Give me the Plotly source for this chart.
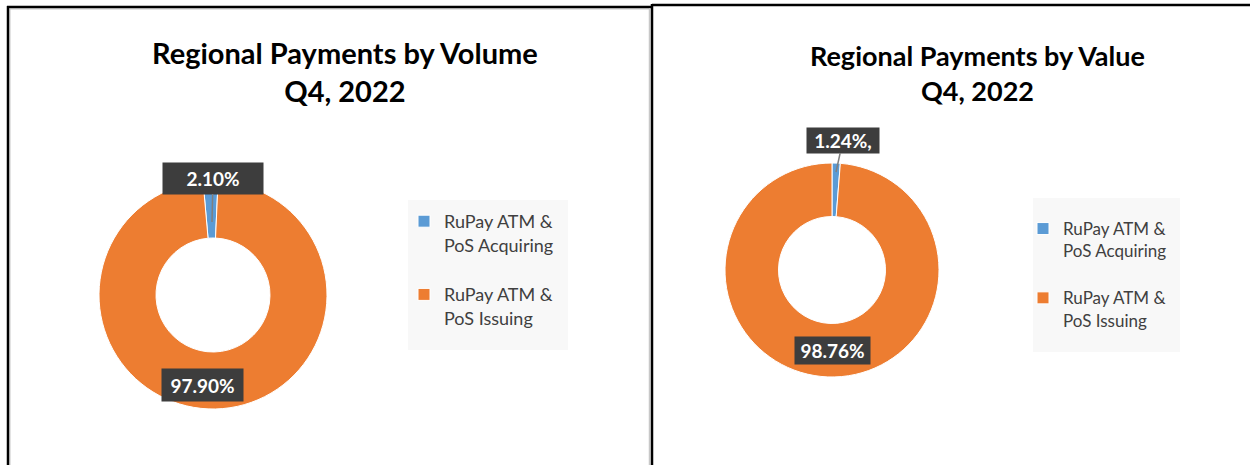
import plotly.graph_objects as go

W, H = 1250, 465

categories = ["RuPay ATM &<br>PoS Acquiring", "RuPay ATM &<br>PoS Issuing"]
volume_share = [2.10, 97.90]
value_share = [1.24, 98.76]
volume_labels = ["2.10%", "97.90%"]
value_labels = ["1.24%,", "98.76%"]
titles = ["Regional Payments by Volume<br>Q4, 2022", "Regional Payments by Value<br>Q4, 2022"]
colors = ["#5B9BD5", "#ED7D31"]


def px(x):
    return x / W


def py(y):
    return 1 - y / H


# trailing blank line gives the gap between legend entries; the two pies need
# distinct label strings so that each gets its own legend
legend_labels1 = [c + "<br> " for c in categories]
legend_labels2 = [c + "<br>  " for c in categories]

fig = go.Figure()

fig.add_trace(go.Pie(
    labels=legend_labels1, values=volume_share, hole=0.5, sort=False,
    direction="clockwise", rotation=-5,
    marker=dict(colors=colors, line=dict(color="white", width=1)),
    textinfo="none", hoverinfo="label+percent",
    domain=dict(x=[px(99), px(327)], y=[py(409), py(181)]),
    legend="legend",
))
fig.add_trace(go.Pie(
    labels=legend_labels2, values=value_share, hole=0.5, sort=False,
    direction="clockwise", rotation=0,
    marker=dict(colors=colors, line=dict(color="white", width=1)),
    textinfo="none", hoverinfo="label+percent",
    domain=dict(x=[px(725), px(939)], y=[py(377), py(163)]),
    legend="legend2",
))

shapes = []
shapes.append(dict(type="rect", xref="paper", yref="paper", x0=px(408), x1=px(568), y0=py(350), y1=py(200),
                   fillcolor="#f8f8f8", line=dict(width=0), layer="below"))
shapes.append(dict(type="rect", xref="paper", yref="paper", x0=px(1033), x1=px(1180), y0=py(352), y1=py(198),
                   fillcolor="#f8f8f8", line=dict(width=0), layer="below"))
for x0, y0, x1, y1, col, w in [
    (10, 9, 649, 9, "#c8c8c8", 1), (10, 9, 10, 465, "#c8c8c8", 1), (649.5, 9, 649.5, 465, "#c8c8c8", 1.5),
    (7, 7, 652, 7, "black", 2.5), (8, 6, 8, 465, "black", 2.5),
    (652, 5, 1250, 5, "black", 2.5), (652, 4, 652, 465, "black", 2.5),
]:
    shapes.append(dict(type="line", xref="paper", yref="paper", x0=px(x0), x1=px(x1), y0=py(y0), y1=py(y1),
                       line=dict(color=col, width=w)))

annotations = []
annotations.append(dict(x=px(345), y=py(71), xref="paper", yref="paper", xanchor="center", yanchor="middle",
                        text="<b>" + titles[0] + "</b>", showarrow=False, align="center",
                        font=dict(family="Lato, Open Sans, sans-serif", size=29, color="black")))
annotations.append(dict(x=px(977), y=py(73), xref="paper", yref="paper", xanchor="center", yanchor="middle",
                        text="<b>" + titles[1] + "</b>", showarrow=False, align="center",
                        font=dict(family="Lato, Open Sans, sans-serif", size=27, color="black")))

lab_font = dict(family="Lato, Open Sans, sans-serif", size=19, color="white")
box = dict(bgcolor="#3d3d3d", borderpad=2)
annotations.append(dict(x=px(212), y=py(222), xref="paper", yref="paper", text="<b>" + volume_labels[0] + "</b>",
                        showarrow=True, arrowhead=0, arrowcolor="#7f7f7f", arrowwidth=1.5, ax=1, ay=-44,
                        width=96, height=27, font=lab_font, **box))
annotations.append(dict(x=px(202), y=py(385), xref="paper", yref="paper", xanchor="center", yanchor="middle",
                        text="<b>" + volume_labels[1] + "</b>",
                        showarrow=False, width=77, height=28, font=lab_font, **box))
annotations.append(dict(x=px(836), y=py(172), xref="paper", yref="paper", text="<b>" + value_labels[0] + "</b>",
                        showarrow=True, arrowhead=0, arrowcolor="#7f7f7f", arrowwidth=1.5, ax=7, ay=-32,
                        width=68, height=21, font=lab_font, **box))
annotations.append(dict(x=px(832), y=py(350), xref="paper", yref="paper", xanchor="center", yanchor="middle",
                        text="<b>" + value_labels[1] + "</b>",
                        showarrow=False, width=71, height=23, font=lab_font, **box))

fig.update_layout(
    width=W, height=H, margin=dict(l=0, r=0, t=0, b=0),
    paper_bgcolor="white", plot_bgcolor="white",
    shapes=shapes, annotations=annotations,
    legend=dict(x=px(404), y=py(203), xanchor="left", yanchor="top", bgcolor="rgba(0,0,0,0)",
                font=dict(family="Lato, Open Sans, sans-serif", size=18, color="#404040"),
                valign="top", itemwidth=30),
    legend2=dict(x=px(1023), y=py(211), xanchor="left", yanchor="top", bgcolor="rgba(0,0,0,0)",
                 font=dict(family="Lato, Open Sans, sans-serif", size=17, color="#404040"),
                 valign="top", itemwidth=30),
)

fig.write_html("out.html", config={"displayModeBar": False},
               post_script="document.body.style.margin='0px';")
